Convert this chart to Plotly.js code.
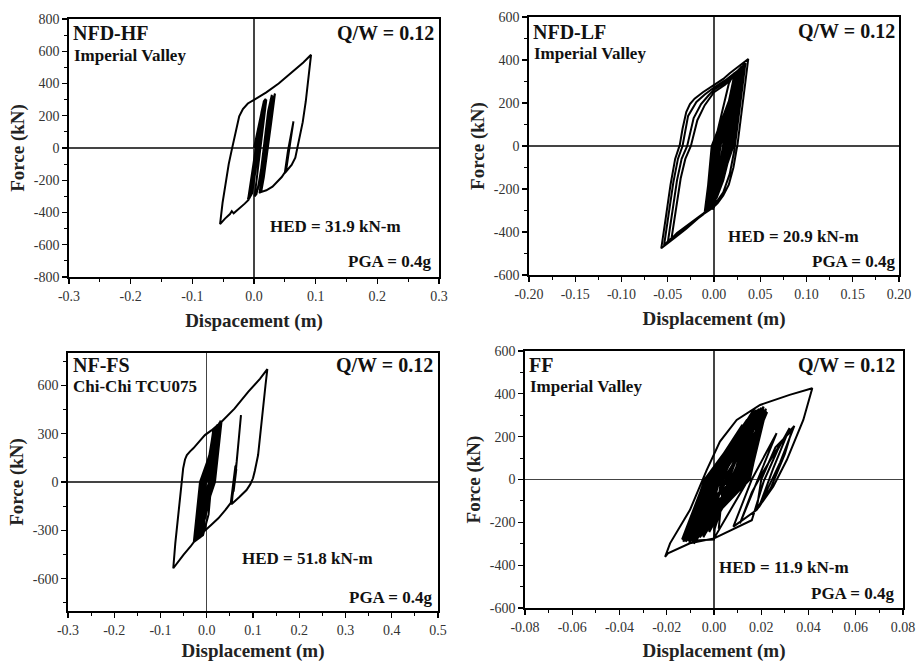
<!DOCTYPE html>
<html>
<head>
<meta charset="utf-8">
<script src="https://cdn.plot.ly/plotly-3.0.1.min.js"></script>
<style>html,body{margin:0;padding:0;background:#fff}#chart{width:917px;height:662px}</style>
</head>
<body>
<div id="chart"></div>
<script>
// ---------- DATA ----------
// Panel 1: NFD-HF, Imperial Valley  (displacement m, force kN)
const hfX = [0,0.008,0.016,0.019,0.01,0.0,-0.007,-0.009,-0.015,-0.025,-0.033,-0.036,-0.039,-0.047,-0.055,
 -0.051,-0.046,-0.041,-0.036,-0.032,-0.028,-0.024,-0.018,-0.01,0.0,0.02,0.04,0.06,0.08,0.0925,
 0.089,0.084,0.079,0.073,0.067,0.061,0.055,0.05,0.055,0.06,0.064,0.059,0.055,0.052,0.045,0.038,0.03,0.02,0.01,
 0.016,0.022,0.028,0.031,0.034,0.028,0.022,0.016,0.012,0.017,0.023,0.028,0.032,0.026,0.02,0.014,0.009,
 0.014,0.02,0.025,0.027,0.02,0.012,0.006,0.011,0.017,0.023,0.029,0.024,0.017,0.01,0.004,
 0.001,0.006,0.012,0.017,0.02,0.012,0.004,-0.003,-0.008,
 -0.002,0.005,0.012,0.016,0.008,0.0,-0.006,-0.001,0.006,0.012,0.015,0.007,-0.001,-0.005,
 -0.009,-0.004,0.003,0.01,0.018,0.011,0.003,-0.004,-0.01,-0.003,0.004,0.011,0.017,0.009,0.002,
 -0.006,0.001,0.008,0.012,0.006,0.001];
const hfY = [0,150,290,305,80,-180,-300,-322,-345,-378,-405,-392,-410,-438,-472,
 -340,-220,-100,-10,60,140,196,242,276,298,345,400,462,530,578,
 450,290,160,50,-60,-105,-135,-155,-20,90,165,40,-60,-140,-180,-210,-240,-262,-275,
 -140,20,200,300,338,160,-20,-180,-265,-120,60,240,320,130,-60,-220,-280,
 -130,60,240,300,100,-120,-260,-150,40,230,330,200,0,-180,-285,
 -300,-140,60,240,300,100,-120,-280,-315,
 -160,40,220,290,80,-140,-290,-170,30,200,260,40,-170,-260,
 -305,-180,0,180,300,130,-60,-230,-320,-200,-20,160,280,90,-90,
 -270,-110,90,180,40,-80];

// Panel 2: NFD-LF, Imperial Valley
const lfX = [0,0.008,0.016,0.022,0.014,0.006,-0.002,-0.008,-0.018,-0.03,-0.042,-0.05,-0.057,
 -0.052,-0.047,-0.042,-0.037,-0.034,-0.03,-0.026,-0.021,-0.012,0.0,0.01,0.017,0.025,0.032,0.037,
 0.034,0.03,0.0255,0.021,0.016,0.01,0.004,-0.002,
 -0.008,-0.002,0.03,0.02,-0.006,0.0,0.028,0.018,-0.004,0.002,0.026,0.016,-0.009,-0.0025,0.032,0.021,
 -0.002,0.004,0.024,0.014,-0.007,0.001,0.034,0.019,
 -0.003,-0.016,-0.028,-0.04,-0.049,-0.054,-0.049,-0.044,-0.039,-0.034,-0.028,-0.019,-0.01,0.0,0.012,0.022,0.03,0.034,
 0.03,0.026,0.022,0.017,0.01,0.002,-0.006,
 0.0,0.006,0.027,0.012,-0.005,0.003,0.029,0.017,-0.003,0.005,0.025,0.013,-0.01,-0.001,0.031,0.015,
 -0.004,-0.015,-0.028,-0.04,-0.05,-0.045,-0.04,-0.035,-0.029,-0.022,-0.014,-0.006,0.0,0.01,0.02,0.03,
 0.026,0.022,0.017,0.01,0.003,-0.004,
 -0.012,-0.025,-0.037,-0.046,-0.041,-0.036,-0.031,-0.025,-0.018,-0.01,0.0,0.012,0.022,0.028,
 0.024,0.02,0.015,0.009,0.002,-0.005,
 -0.001,0.007,0.03,0.018,-0.006,0.002,0.028,0.016,-0.003,0.005,0.026,0.014,0.0,0.006,0.022,0.012,
 -0.0085,-0.0015,0.031,0.0195,-0.0055,0.0025,0.027,0.0165,-0.0075,0.0035,0.033,0.0175,-0.0015,0.0055,0.025,0.011,0.002];
const lfY = [0,150,290,340,120,-100,-260,-300,-340,-385,-425,-452,-476,
 -330,-180,-60,5,80,158,195,220,250,284,312,338,365,390,405,
 300,160,10,-100,-180,-230,-265,-290,
 -300,0,370,0,-298,0,360,0,-295,0,350,0,-305,0,380,0,
 -290,0,340,0,-300,0,385,0,
 -292,-330,-370,-410,-440,-462,-320,-170,-60,0,140,205,240,272,305,340,365,385,
 250,110,-20,-130,-215,-265,-290,
 -285,0,352,0,-296,0,365,0,-292,0,345,0,-305,0,375,0,
 -290,-325,-365,-405,-450,-310,-160,-60,0,130,195,235,262,290,325,370,
 230,80,-40,-160,-240,-285,
 -320,-360,-400,-432,-290,-150,-60,0,120,190,250,285,325,355,
 230,80,-40,-160,-240,-290,
 -292,0,370,0,-298,0,360,0,-294,0,350,0,-285,0,330,0,
 -302,0,374,0,-296,0,356,0,-300,0,388,0,-290,0,342,0,-200];

// Panel 3: NF-FS, Chi-Chi TCU075
const fsX = [0,0.012,0.022,0.03,0.017,
 -0.026,-0.014,0.03,0.017,-0.022,-0.011,0.026,0.014,-0.018,-0.008,0.022,0.011,
 -0.014,-0.005,0.018,0.008,-0.01,-0.002,0.014,0.005,-0.024,-0.013,0.028,0.016,
 -0.02,-0.009,0.024,0.012,-0.016,-0.006,0.02,0.009,-0.012,-0.003,0.016,0.006,
 -0.028,-0.035,-0.05,-0.062,-0.0724,-0.068,-0.0615,-0.057,-0.054,-0.051,-0.047,-0.043,-0.036,-0.029,-0.015,-0.004,0.01,0.032,0.06,0.09,0.115,0.131,
 0.127,0.122,0.117,0.111,0.104,0.1,0.094,0.086,0.07,0.054,
 0.058,0.0647,0.07,0.074,0.068,0.062,0.058,0.055,0.06,0.064,0.06,0.053,0.057,0.062,0.057,0.052,
 0.04,0.025,0.01,0.0,-0.015,-0.028,
 -0.0146,0.032,0.0178,-0.025,-0.012,0.027,0.015,-0.021,-0.01,0.023,0.013,-0.017,-0.007,0.019,0.01,
 -0.013,-0.004,0.015,0.007,-0.019,-0.008,0.021,0.004,-0.008,
 -0.027,-0.013,0.031,0.0165,-0.023,-0.0105,0.027,0.0135,-0.019,-0.0075,0.023,0.0105,
 -0.015,-0.0045,0.019,0.0075,-0.011,-0.0015,0.015,0.0045,-0.025,-0.012,0.029,0.015,-0.01];
const fsY = [0,180,320,380,0,
 -368,0,372,0,-360,0,360,0,-352,0,350,0,
 -345,0,335,0,-335,0,320,0,-366,0,368,0,
 -358,0,356,0,-350,0,342,0,-340,0,328,0,
 -372,-400,-450,-495,-535,-380,-184,-80,2,85,140,167,190,209,255,291,320,374,455,560,640,700,
 600,477,330,167,70,23,-15,-50,-95,-136,
 -20,126,290,415,200,40,-60,-120,0,80,-20,-140,-30,100,-10,-130,
 -175,-225,-265,-291,-330,-372,
 0,376,0,-366,0,366,0,-358,0,354,0,-350,0,340,0,
 -342,0,330,0,-356,0,345,-200,-330,
 -370,0,374,0,-362,0,364,0,-355,0,352,0,
 -348,0,338,0,-338,0,325,0,-365,0,370,0,-300];

// Panel 4: FF, Imperial Valley
const ffX = [0,0.006,0.012,0.016,0.01,
 -0.011,-0.0035,0.02,0.014,-0.008,-0.002,0.022,0.015,-0.012,-0.004,0.016,0.011,
 -0.006,0.0,0.018,0.012,-0.01,-0.003,0.014,0.009,-0.004,0.001,0.021,0.0135,
 -0.009,-0.0015,0.017,0.01,-0.002,0.002,0.015,0.0085,-0.007,-0.001,0.019,0.007,
 0.0,0.003,0.013,0.006,-0.012,-0.0025,0.02,0.0125,-0.005,0.0005,0.016,0.005,
 -0.009,-0.003,0.012,0.004,0.002,0.004,0.022,0.0145,
 0.0,-0.0102,-0.0195,-0.0207,-0.0186,-0.0102,-0.0031,0.0025,0.0096,0.0195,0.032,0.0416,
 0.0378,0.0308,0.0251,0.018,0.0082,
 0.016,0.0265,0.02,0.011,0.016,0.021,0.03,0.034,0.028,0.022,0.018,0.02,0.026,0.033,0.03,0.024,0.019,
 0.025,0.032,0.027,0.021,0.016,0.0,0.0003,0.0,
 -0.008,-0.002,0.018,0.011,-0.01,-0.002,0.02,0.013,-0.006,0.001,0.017,0.009,
 -0.011,-0.003,0.015,0.008,-0.004,0.002,0.021,0.012,-0.007,-0.001,0.013,0.006,
 -0.013,-0.004,0.018,0.013,-0.0115,-0.0028,0.0195,0.0115,-0.0095,-0.0012,0.0175,0.0095,
 -0.0085,-0.002,0.021,0.0135,-0.0065,0.0008,0.0225,0.0105,-0.0035,0.0018,0.0185,0.0075,
 -0.0125,-0.0032,0.0155,0.0088,-0.0045,0.0025,0.0215,0.0152,-0.0105,-0.0018,0.0165,0.0062,
 -0.0015,0.0035,0.014,0.0055,-0.0075,-0.0005,0.0205,0.0125,-0.0135,-0.0038,0.019,0.0108,0.0];
const ffY = [0,120,220,270,0,
 -285,0,335,0,-275,0,320,0,-290,0,300,0,
 -265,0,310,0,-280,0,280,0,-255,0,300,0,
 -290,0,330,0,-245,0,260,0,-270,0,290,0,
 -240,0,240,0,-280,0,310,0,-260,0,275,0,
 -295,0,255,0,-230,0,330,0,
 -275,-298,-345,-361,-298,-143,44,177,278,348,395,426,
 278,91,-33,-143,-220,
 0,216,40,-205,-60,40,200,250,80,-60,-143,0,150,230,120,-40,-130,
 50,240,140,-10,-190,-275,-230,-280,
 -285,0,325,0,-290,0,315,0,-270,0,300,0,
 -285,0,290,0,-250,0,305,0,-270,0,250,0,
 -290,0,320,0,-270,0,300,0,-255,0,270,0,
 -300,0,340,0,-260,0,315,0,-250,0,285,0,
 -275,0,290,0,-270,0,325,0,-295,0,305,0,
 -235,0,250,0,-285,0,295,0,-280,0,330,0,-200];

// Tick values and labels
const hfXTicks = [-0.3,-0.2,-0.1,0,0.1,0.2,0.3];
const hfXText  = ['-0.3','-0.2','-0.1','0.0','0.1','0.2','0.3'];
const hfYTicks = [-800,-600,-400,-200,0,200,400,600,800];
const hfYText  = ['-800','-600','-400','-200','0','200','400','600','800'];
const lfXTicks = [-0.2,-0.15,-0.1,-0.05,0,0.05,0.1,0.15,0.2];
const lfXText  = ['-0.20','-0.15','-0.10','-0.05','0.00','0.05','0.10','0.15','0.20'];
const lfYTicks = [-600,-400,-200,0,200,400,600];
const lfYText  = ['-600','-400','-200','0','200','400','600'];
const fsXTicks = [-0.3,-0.2,-0.1,0,0.1,0.2,0.3,0.4,0.5];
const fsXText  = ['-0.3','-0.2','-0.1','0.0','0.1','0.2','0.3','0.4','0.5'];
const fsYTicks = [-600,-300,0,300,600];
const fsYText  = ['-600','-300','0','300','600'];
const ffXTicks = [-0.08,-0.06,-0.04,-0.02,0,0.02,0.04,0.06,0.08];
const ffXText  = ['-0.08','-0.06','-0.04','-0.02','0.00','0.02','0.04','0.06','0.08'];
const ffYTicks = [-600,-400,-200,0,200,400,600];
const ffYText  = ['-600','-400','-200','0','200','400','600'];

// ---------- LAYOUT ----------
const W = 917, H = 662;
const fx = p => p / W, fy = p => 1 - p / H;
const SERIF = '"Liberation Serif", "Times New Roman", Tinos, "DejaVu Serif", serif';

function xax(d, range, tv, tt, mdt, anchor, title) {
  return {
    domain: [fx(d[0]), fx(d[1])], range, tickmode: 'array', tickvals: tv, ticktext: tt,
    ticks: 'outside', ticklen: 5, tickwidth: 1.3, tickcolor: '#000',
    minor: {tickmode: 'linear', tick0: 0, dtick: mdt, ticks: 'outside', ticklen: 3, tickwidth: 1, tickcolor: '#000'},
    showline: true, linecolor: '#000', linewidth: 1.8, mirror: true, showgrid: false,
    zeroline: true, zerolinecolor: '#444', zerolinewidth: 1.2,
    tickfont: {family: SERIF, size: 14, color: '#333'}, anchor, automargin: false,
    title: {text: '<b>' + title + '</b>', font: {family: SERIF, size: 19, color: '#222'}, standoff: 11}
  };
}
function yax(d, range, tv, tt, mdt, anchor) {
  return {
    domain: [fy(d[1]), fy(d[0])], range, tickmode: 'array', tickvals: tv, ticktext: tt,
    ticks: 'outside', ticklen: 5, tickwidth: 1.3, tickcolor: '#000',
    minor: {tickmode: 'linear', tick0: 0, dtick: mdt, ticks: 'outside', ticklen: 3, tickwidth: 1, tickcolor: '#000'},
    showline: true, linecolor: '#000', linewidth: 1.8, mirror: true, showgrid: false,
    zeroline: true, zerolinecolor: '#444', zerolinewidth: 1.2,
    tickfont: {family: SERIF, size: 14, color: '#333'}, anchor, automargin: false,
    title: {text: '<b>Force (kN)</b>', font: {family: SERIF, size: 19, color: '#222'}, standoff: 4}
  };
}

const line = {color: '#000', width: 2};
const data = [
  {x: hfX, y: hfY, xaxis: 'x', yaxis: 'y', mode: 'lines', line, hoverinfo: 'skip'},
  {x: lfX, y: lfY, xaxis: 'x2', yaxis: 'y2', mode: 'lines', line, hoverinfo: 'skip'},
  {x: fsX, y: fsY, xaxis: 'x3', yaxis: 'y3', mode: 'lines', line, hoverinfo: 'skip'},
  {x: ffX, y: ffY, xaxis: 'x4', yaxis: 'y4', mode: 'lines', line, hoverinfo: 'skip'}
];

function txt(t, px, py, xa, size) {
  return {text: '<b>' + t + '</b>', x: fx(px), y: fy(py), xref: 'paper', yref: 'paper',
    xanchor: xa, yanchor: 'middle', showarrow: false, font: {family: SERIF, size, color: '#111'}};
}

const annotations = [
  txt('NFD-HF', 71, 33, 'left', 20), txt('Imperial Valley', 72, 56, 'left', 17),
  txt('Q/W = 0.12', 436, 33, 'right', 20), txt('HED = 31.9 kN-m', 268, 227, 'left', 17),
  txt('PGA = 0.4g', 433, 262, 'right', 17),
  txt('NFD-LF', 531, 32, 'left', 20), txt('Imperial Valley', 532, 53, 'left', 17),
  txt('Q/W = 0.12', 897, 31, 'right', 20), txt('HED = 20.9 kN-m', 726, 237, 'left', 17),
  txt('PGA = 0.4g', 897, 262, 'right', 17),
  txt('NF-FS', 71, 365, 'left', 20), txt('Chi-Chi TCU075', 71, 386, 'left', 17),
  txt('Q/W = 0.12', 435, 365, 'right', 20), txt('HED = 51.8 kN-m', 240, 558, 'left', 17),
  txt('PGA = 0.4g', 434, 597, 'right', 17),
  txt('FF', 527, 365, 'left', 20), txt('Imperial Valley', 528, 386, 'left', 17),
  txt('Q/W = 0.12', 897, 365, 'right', 20), txt('HED = 11.9 kN-m', 717, 567, 'left', 17),
  txt('PGA = 0.4g', 896, 593, 'right', 17)
];

const layout = {
  width: W, height: H, margin: {l: 0, r: 0, t: 0, b: 0}, showlegend: false,
  paper_bgcolor: '#fff', plot_bgcolor: '#fff',
  xaxis:  xax([69, 439], [-0.3, 0.3], hfXTicks, hfXText, 0.05, 'y', 'Dispacement (m)'),
  yaxis:  yax([19, 277], [-800, 800], hfYTicks, hfYText, 100, 'x'),
  xaxis2: xax([529, 899], [-0.2, 0.2], lfXTicks, lfXText, 0.025, 'y2', 'Displacement (m)'),
  yaxis2: yax([17, 275], [-600, 600], lfYTicks, lfYText, 100, 'x2'),
  xaxis3: xax([68, 438], [-0.3, 0.5], fsXTicks, fsXText, 0.05, 'y3', 'Displacement (m)'),
  yaxis3: yax([353, 611], [-800, 800], fsYTicks, fsYText, 150, 'x3'),
  xaxis4: xax([525, 903], [-0.08, 0.08], ffXTicks, ffXText, 0.01, 'y4', 'Displacement (m)'),
  yaxis4: yax([351, 608], [-600, 600], ffYTicks, ffYText, 100, 'x4'),
  annotations
};

Plotly.newPlot('chart', data, layout, {staticPlot: true, displayModeBar: false});
</script>
</body>
</html>
